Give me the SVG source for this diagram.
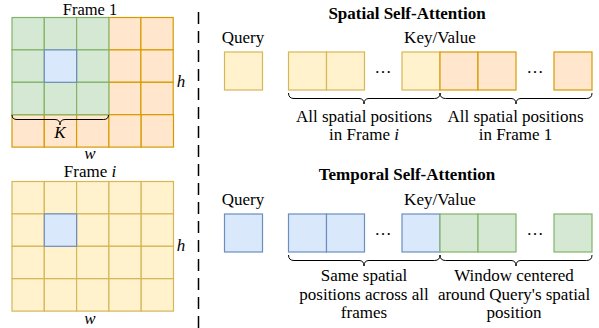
<svg xmlns="http://www.w3.org/2000/svg" width="599" height="328" viewBox="0 0 599 328">
<style>
text{font-family:"Liberation Serif","Times New Roman",serif;font-size:17px;fill:#000;text-anchor:middle}
.b{font-weight:bold}
.m{font-style:italic}
.t{font-size:16.5px}
.y{fill:#fff2cc;stroke:#d6b656;stroke-width:1.2}
.o{fill:#ffe6cc;stroke:#d79b00;stroke-width:1.2}
.g{fill:#d5e8d4;stroke:#82b366;stroke-width:1.2}
.bl{fill:#dae8fc;stroke:#6c8ebf;stroke-width:1.2}
.br{fill:none;stroke:#000;stroke-width:1}
</style>
<g id="frame1">
<g class="o">
<rect x="108.6" y="17.5" width="32.3" height="32.4"/><rect x="140.9" y="17.5" width="32.3" height="32.4"/>
<rect x="108.6" y="49.9" width="32.3" height="32.4"/><rect x="140.9" y="49.9" width="32.3" height="32.4"/>
<rect x="108.6" y="82.3" width="32.3" height="32.4"/><rect x="140.9" y="82.3" width="32.3" height="32.4"/>
<rect x="12" y="114.7" width="32.3" height="32.4"/><rect x="44.3" y="114.7" width="32.3" height="32.4"/><rect x="76.6" y="114.7" width="32.3" height="32.4"/><rect x="108.9" y="114.7" width="32.3" height="32.4"/><rect x="141.2" y="114.7" width="32.3" height="32.4"/>
</g>
<g class="g">
<rect x="12" y="17.5" width="32.3" height="32.4"/><rect x="44.3" y="17.5" width="32.3" height="32.4"/><rect x="76.6" y="17.5" width="32.3" height="32.4"/>
<rect x="12" y="49.9" width="32.3" height="32.4"/><rect x="76.6" y="49.9" width="32.3" height="32.4"/>
<rect x="12" y="82.3" width="32.3" height="32.4"/><rect x="44.3" y="82.3" width="32.3" height="32.4"/><rect x="76.6" y="82.3" width="32.3" height="32.4"/>
</g>
<rect class="bl" x="44.3" y="49.9" width="32.3" height="32.4"/>
<path class="br" d="M12,115 Q12,119.5 17,119.5 H55 Q60,119.5 60,125 Q60,119.5 65,119.5 H103.5 Q108.5,119.5 108.5,115"/>
<text class="t" x="90" y="15">Frame 1</text>
<text class="m" x="60" y="137.5">K</text>
<text class="m" x="181" y="86.5">h</text>
<text class="m" x="90" y="159">w</text>
</g>
<g id="framei">
<g class="y">
<rect x="12" y="181.5" width="32.3" height="32.4"/><rect x="44.3" y="181.5" width="32.3" height="32.4"/><rect x="76.6" y="181.5" width="32.3" height="32.4"/><rect x="108.9" y="181.5" width="32.3" height="32.4"/><rect x="141.2" y="181.5" width="32.3" height="32.4"/>
<rect x="12" y="213.9" width="32.3" height="32.4"/><rect x="76.6" y="213.9" width="32.3" height="32.4"/><rect x="108.9" y="213.9" width="32.3" height="32.4"/><rect x="141.2" y="213.9" width="32.3" height="32.4"/>
<rect x="12" y="246.3" width="32.3" height="32.4"/><rect x="44.3" y="246.3" width="32.3" height="32.4"/><rect x="76.6" y="246.3" width="32.3" height="32.4"/><rect x="108.9" y="246.3" width="32.3" height="32.4"/><rect x="141.2" y="246.3" width="32.3" height="32.4"/>
<rect x="12" y="278.7" width="32.3" height="32.4"/><rect x="44.3" y="278.7" width="32.3" height="32.4"/><rect x="76.6" y="278.7" width="32.3" height="32.4"/><rect x="108.9" y="278.7" width="32.3" height="32.4"/><rect x="141.2" y="278.7" width="32.3" height="32.4"/>
</g>
<rect class="bl" x="44.3" y="213.9" width="32.3" height="32.4"/>
<text x="90" y="177">Frame <tspan class="m">i</tspan></text>
<text class="m" x="181" y="251">h</text>
<text class="m" x="90" y="324">w</text>
</g>
<g id="divider">
<line x1="198.5" y1="12" x2="198.5" y2="328" stroke="#000" stroke-width="1.5" stroke-dasharray="12,7"/>
</g>
<g id="spatial">
<text class="b" x="407" y="18.5">Spatial Self-Attention</text>
<text x="243" y="43">Query</text>
<text x="440" y="43">Key/Value</text>
<rect class="y" x="224.5" y="52" width="38" height="38"/>
<rect class="y" x="288.5" y="52" width="38" height="38"/>
<rect class="y" x="326.5" y="52" width="38" height="38"/>
<rect class="y" x="402" y="52" width="38" height="38"/>
<rect class="o" x="440" y="52" width="38" height="38"/>
<rect class="o" x="478" y="52" width="38" height="38"/>
<rect class="o" x="554" y="52" width="38" height="38"/>
<text x="383" y="73">…</text>
<text x="535" y="73">…</text>
<path class="br" d="M288.5,93 Q288.5,98.5 294,98.5 H359 Q364,98.5 364,104 Q364,98.5 369,98.5 H434.5 Q440,98.5 440,93"/>
<path class="br" d="M440,93 Q440,98.5 445.5,98.5 H511 Q516,98.5 516,104 Q516,98.5 521,98.5 H586.5 Q592,98.5 592,93"/>
<text x="364" y="122">All spatial positions</text>
<text x="364" y="139.5">in Frame <tspan class="m">i</tspan></text>
<text x="515.5" y="122">All spatial positions</text>
<text x="515.5" y="139.5">in Frame 1</text>
</g>
<g id="temporal">
<text class="b" x="407" y="180">Temporal Self-Attention</text>
<text x="243" y="205">Query</text>
<text x="440" y="205">Key/Value</text>
<rect class="bl" x="224.5" y="214" width="38" height="38"/>
<rect class="bl" x="288.5" y="214" width="38" height="38"/>
<rect class="bl" x="326.5" y="214" width="38" height="38"/>
<rect class="bl" x="402" y="214" width="38" height="38"/>
<rect class="g" x="440" y="214" width="38" height="38"/>
<rect class="g" x="478" y="214" width="38" height="38"/>
<rect class="g" x="554" y="214" width="38" height="38"/>
<text x="383" y="235">…</text>
<text x="535" y="235">…</text>
<path class="br" d="M288.5,255 Q288.5,260.5 294,260.5 H359 Q364,260.5 364,266 Q364,260.5 369,260.5 H434.5 Q440,260.5 440,255"/>
<path class="br" d="M440,255 Q440,260.5 445.5,260.5 H511 Q516,260.5 516,266 Q516,260.5 521,260.5 H586.5 Q592,260.5 592,255"/>
<text x="364" y="281">Same spatial</text>
<text x="364" y="299.5">positions across all</text>
<text x="364" y="318">frames</text>
<text x="514" y="281">Window centered</text>
<text x="514" y="299.5">around Query's spatial</text>
<text x="514" y="318">position</text>
</g>
</svg>
